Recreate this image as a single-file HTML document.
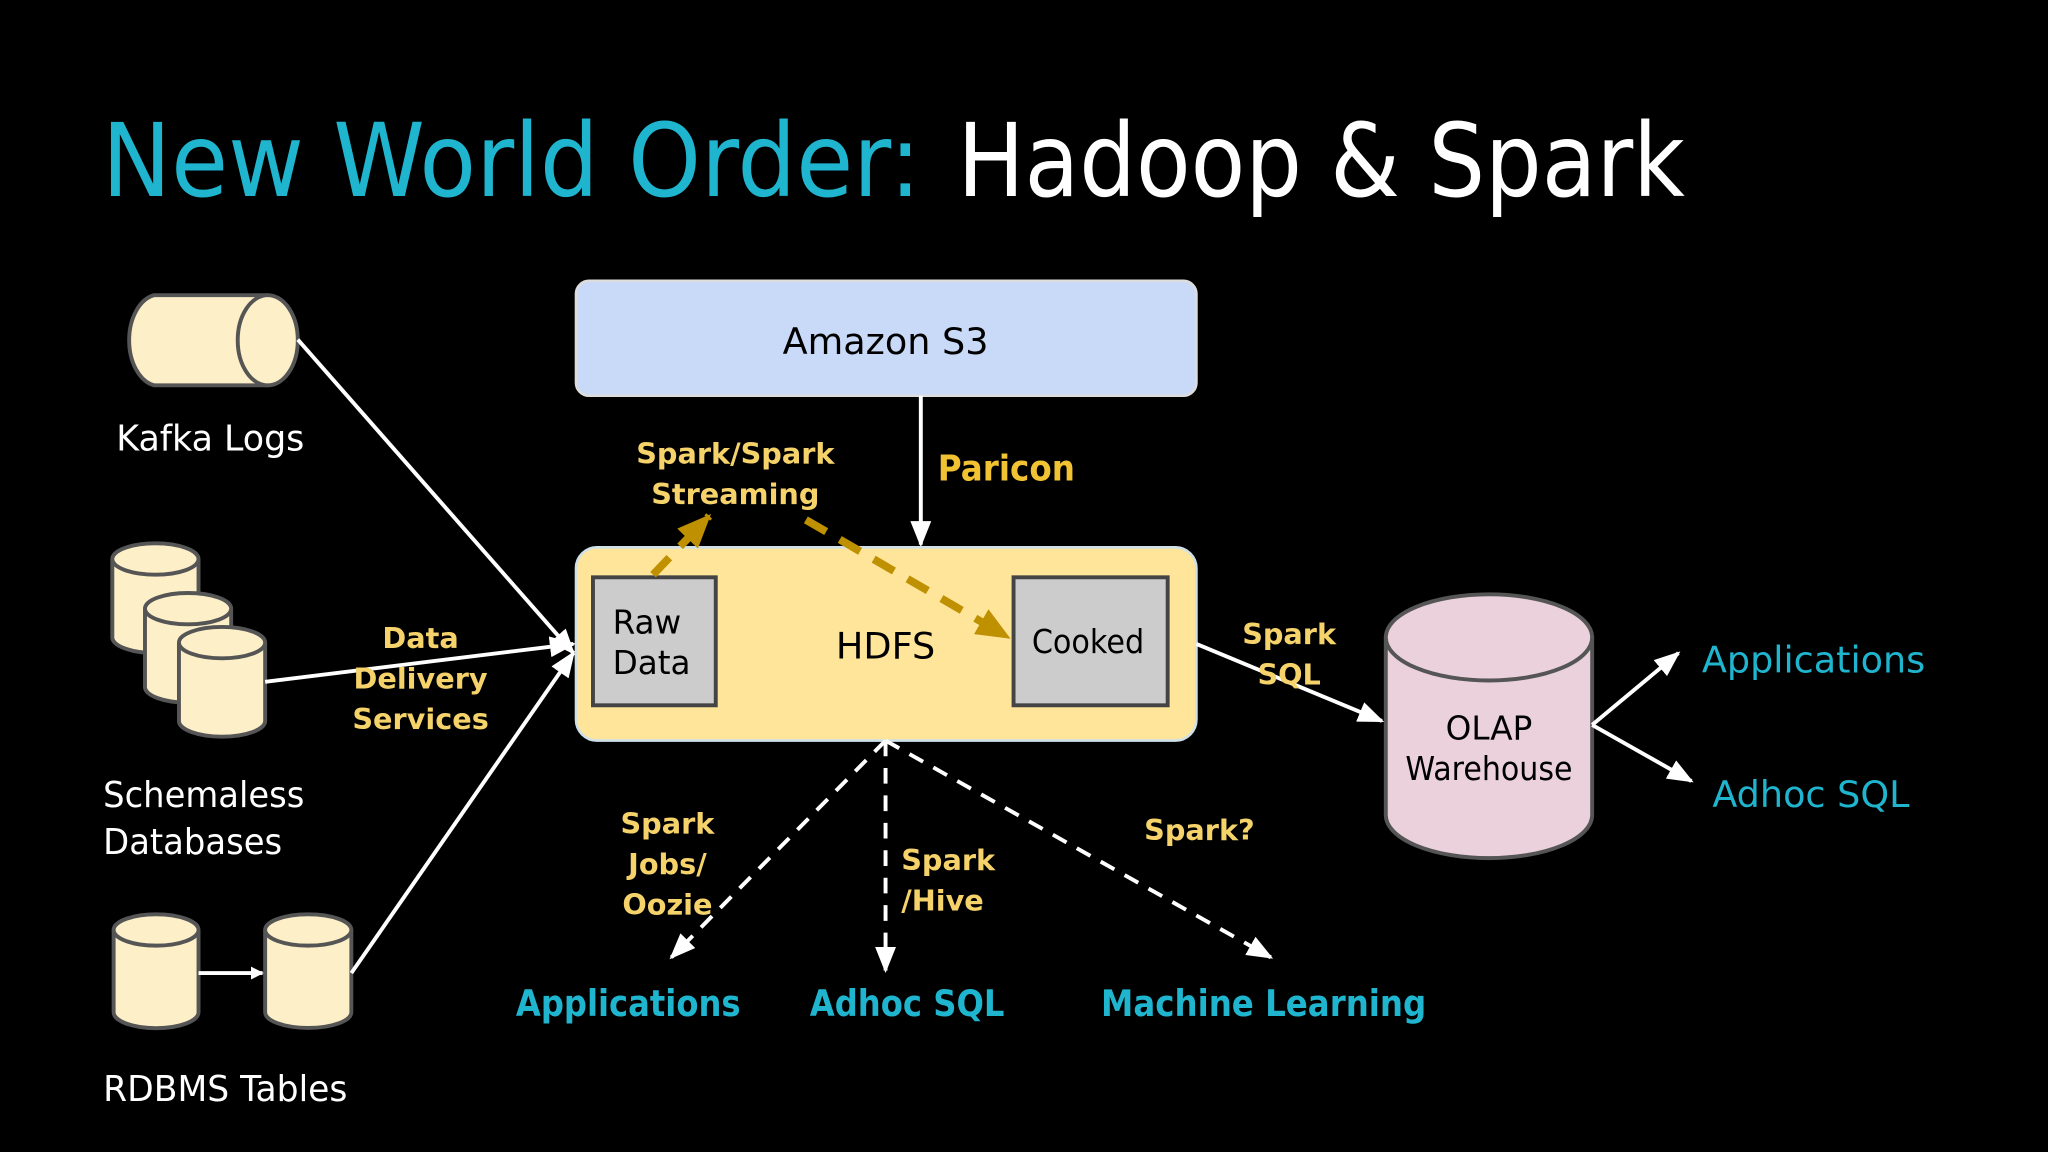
<!DOCTYPE html>
<html><head><meta charset="utf-8"><style>
html,body{margin:0;padding:0;background:#000;overflow:hidden}
svg{display:block}
text{font-family:"DejaVu Sans","Liberation Sans",sans-serif}
</style></head><body>
<svg width="2048" height="1152" viewBox="0 0 1568 882" xmlns="http://www.w3.org/2000/svg">
<defs>
<marker id="aw" markerWidth="10" markerHeight="10" refX="9" refY="5" orient="auto" markerUnits="userSpaceOnUse" viewBox="0 0 10 10"><path d="M0,0 L10,5 L0,10 z" fill="#fff"/></marker>
<marker id="awb" markerWidth="20" markerHeight="16" refX="18" refY="8" orient="auto" markerUnits="userSpaceOnUse" viewBox="0 0 20 16"><path d="M0,0 L20,8 L0,16 z" fill="#fff"/></marker>
<marker id="ag" markerWidth="26" markerHeight="22" refX="24" refY="11" orient="auto" markerUnits="userSpaceOnUse" viewBox="0 0 26 22"><path d="M0,0 L26,11 L0,22 z" fill="#bf9000"/></marker>
</defs>
<rect width="1568" height="882" fill="#000"/>
<text x="78" y="150" font-size="78" fill="#1fb5cf" textLength="627" lengthAdjust="spacingAndGlyphs">New World Order:</text>
<text x="733" y="150" font-size="78" fill="#fff" textLength="557" lengthAdjust="spacingAndGlyphs">Hadoop &amp; Spark</text>

<!-- Kafka -->
<path d="M118,226 L205,226 A23,35 0 0 1 205,295 L118,295 A23,35 0 0 1 118,226 z" fill="#fdf0c8" stroke="#555" stroke-width="3"/>
<ellipse cx="205" cy="260.5" rx="23" ry="34.5" fill="#fdf0c8" stroke="#555" stroke-width="3"/>
<text x="89" y="345" font-size="27" fill="#fff" textLength="144" lengthAdjust="spacingAndGlyphs">Kafka Logs</text>

<!-- Schemaless -->
<g fill="#fdf0c8" stroke="#555" stroke-width="3">
<path d="M86,428 L86,488 A33,12 0 0 0 152,488 L152,428"/><ellipse cx="119" cy="428" rx="33" ry="12"/>
<path d="M111,466 L111,526 A33,12 0 0 0 177,526 L177,466"/><ellipse cx="144" cy="466" rx="33" ry="12"/>
<path d="M137,492 L137,552 A33,12 0 0 0 203,552 L203,492"/><ellipse cx="170" cy="492" rx="33" ry="12"/>
<path d="M87,712 L87,775 A32,12 0 0 0 152,775 L152,712"/><ellipse cx="119.5" cy="712" rx="32.5" ry="12"/>
<path d="M203,712 L203,775 A33,12 0 0 0 269,775 L269,712"/><ellipse cx="236" cy="712" rx="33" ry="12"/>
</g>
<text x="79" y="618" font-size="27" fill="#fff" textLength="154" lengthAdjust="spacingAndGlyphs">Schemaless</text>
<text x="79" y="654" font-size="27" fill="#fff" textLength="137" lengthAdjust="spacingAndGlyphs">Databases</text>
<line x1="152" y1="745" x2="201" y2="745" stroke="#fff" stroke-width="3" marker-end="url(#aw)"/>
<text x="79" y="843" font-size="27" fill="#fff" textLength="187" lengthAdjust="spacingAndGlyphs">RDBMS Tables</text>

<!-- S3 -->
<rect x="441" y="215" width="475" height="88" rx="10" fill="#c9daf8" stroke="#ddd" stroke-width="2"/>
<text x="678" y="271" font-size="28" fill="#000" text-anchor="middle">Amazon S3</text>
<line x1="705" y1="303" x2="705" y2="417" stroke="#fff" stroke-width="3" marker-end="url(#awb)"/>
<text x="718" y="368" font-size="27" fill="#f1c232" font-weight="bold" textLength="105" lengthAdjust="spacingAndGlyphs">Paricon</text>

<!-- HDFS -->
<rect x="441" y="419" width="475" height="148" rx="16" fill="#ffe599" stroke="#cfe0e8" stroke-width="2"/>
<text x="678" y="504" font-size="28" fill="#000" text-anchor="middle">HDFS</text>
<rect x="454" y="442" width="94" height="98" fill="#ccc" stroke="#444" stroke-width="3"/>
<text x="469" y="485" font-size="25" fill="#000">Raw</text>
<text x="469" y="516" font-size="25" fill="#000">Data</text>
<rect x="776" y="442" width="118" height="98" fill="#ccc" stroke="#444" stroke-width="3"/>
<text x="790" y="500" font-size="25" fill="#000" textLength="86" lengthAdjust="spacingAndGlyphs">Cooked</text>

<g stroke="#bf9000" stroke-width="6" stroke-dasharray="18,12" fill="none">
<line x1="500" y1="440" x2="543" y2="395" marker-end="url(#ag)"/>
<line x1="617" y1="398" x2="772" y2="488" marker-end="url(#ag)"/>
</g>
<g fill="#f6d36a" font-size="22" font-weight="bold" text-anchor="middle">
<text x="563" y="355">Spark/Spark</text>
<text x="563" y="386">Streaming</text>
</g>

<!-- inputs -->
<g stroke="#fff" stroke-width="3">
<line x1="228" y1="260" x2="439" y2="500" marker-end="url(#awb)"/>
<line x1="203" y1="522" x2="439" y2="493" marker-end="url(#awb)"/>
<line x1="269" y1="745" x2="439" y2="500" marker-end="url(#awb)"/>
</g>
<g fill="#f6d36a" font-size="22" font-weight="bold" text-anchor="middle">
<text x="322" y="496">Data</text>
<text x="322" y="527">Delivery</text>
<text x="322" y="558">Services</text>
</g>

<!-- OLAP -->
<line x1="916" y1="493" x2="1058" y2="552" stroke="#fff" stroke-width="3" marker-end="url(#awb)"/>
<g fill="#f6d36a" font-size="22" font-weight="bold" text-anchor="middle">
<text x="987" y="493">Spark</text>
<text x="987" y="524">SQL</text>
</g>
<path d="M1061,488 L1061,624 A79,33 0 0 0 1219,624 L1219,488" fill="#ead1dc" stroke="#555" stroke-width="3"/>
<ellipse cx="1140" cy="488" rx="79" ry="33" fill="#ead1dc" stroke="#555" stroke-width="3"/>
<text x="1140" y="566" font-size="25" fill="#000" text-anchor="middle">OLAP</text>
<text x="1140" y="597" font-size="25" fill="#000" text-anchor="middle" textLength="128" lengthAdjust="spacingAndGlyphs">Warehouse</text>
<line x1="1219" y1="555" x2="1285" y2="500" stroke="#fff" stroke-width="3" marker-end="url(#awb)"/>
<line x1="1219" y1="555" x2="1295" y2="598" stroke="#fff" stroke-width="3" marker-end="url(#awb)"/>
<text x="1303" y="515" font-size="28" fill="#1fb5cf">Applications</text>
<text x="1311" y="618" font-size="28" fill="#1fb5cf">Adhoc SQL</text>

<!-- bottom -->
<g stroke="#fff" stroke-width="3" stroke-dasharray="12,9">
<line x1="678" y1="567" x2="514" y2="733" marker-end="url(#awb)"/>
<line x1="678" y1="567" x2="678" y2="743" marker-end="url(#awb)"/>
<line x1="678" y1="567" x2="973" y2="733" marker-end="url(#awb)"/>
</g>
<g fill="#f6d36a" font-size="22" font-weight="bold">
<text x="511" y="638" text-anchor="middle">Spark</text>
<text x="511" y="669" text-anchor="middle">Jobs/</text>
<text x="511" y="700" text-anchor="middle">Oozie</text>
<text x="690" y="666">Spark</text>
<text x="690" y="697">/Hive</text>
<text x="876" y="643">Spark?</text>
</g>
<g fill="#1fb5cf" font-size="28" font-weight="bold">
<text x="395" y="778" textLength="172" lengthAdjust="spacingAndGlyphs">Applications</text>
<text x="620" y="778" textLength="149" lengthAdjust="spacingAndGlyphs">Adhoc SQL</text>
<text x="843" y="778" textLength="249" lengthAdjust="spacingAndGlyphs">Machine Learning</text>
</g>
</svg>
</body></html>
